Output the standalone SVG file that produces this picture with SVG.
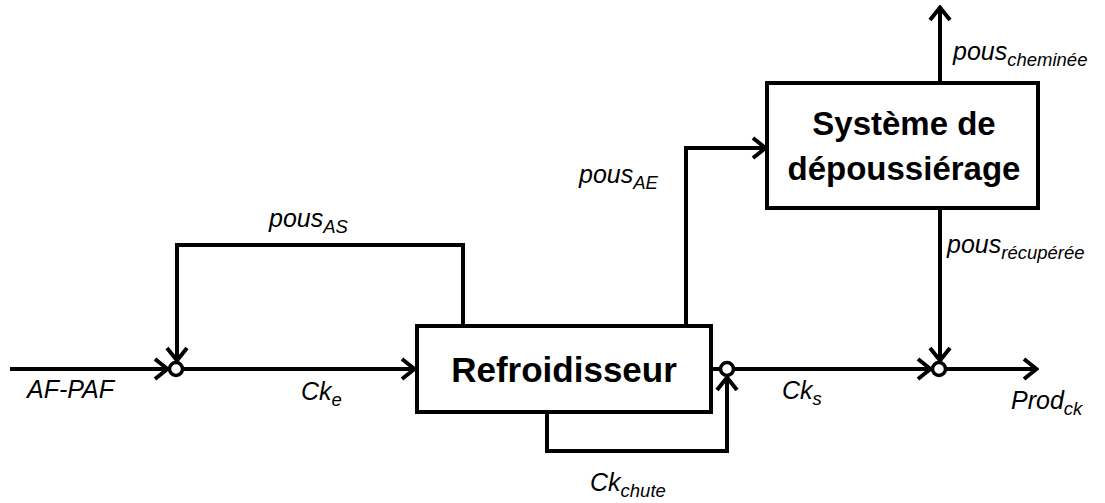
<svg xmlns="http://www.w3.org/2000/svg" width="1105" height="503" viewBox="0 0 1105 503">
<style>
.ln{fill:none;stroke:#000;stroke-width:4;stroke-linejoin:miter}
.box{fill:#fff;stroke:#000;stroke-width:4}
.jn{fill:#fff;stroke:#000;stroke-width:3.5}
.t{font-family:"Liberation Sans",Arial,sans-serif;fill:#000}
.lab{font-style:italic;font-size:25px}
.sub{font-size:18.5px}
.bt{font-weight:bold;text-anchor:middle}
</style>
<defs>
<marker id="arr" viewBox="0 0 18 26" refX="16" refY="13" markerWidth="18" markerHeight="26" markerUnits="userSpaceOnUse" orient="auto">
<path d="M3,3 L15.5,13 L3,23" fill="none" stroke="#000" stroke-width="4"/>
</marker>
</defs>
<rect width="1105" height="503" fill="#fff"/>
<g id="connectors">
<path class="ln" d="M10,369 H168" marker-end="url(#arr)"/>
<path class="ln" d="M463,326 V245 H177 V361" marker-end="url(#arr)"/>
<path class="ln" d="M183,369 H415" marker-end="url(#arr)"/>
<path class="ln" d="M711,369 H721"/>
<path class="ln" d="M547,412 V451 H727 V377" marker-end="url(#arr)"/>
<path class="ln" d="M734,369 H931" marker-end="url(#arr)"/>
<path class="ln" d="M946,369 H1037" marker-end="url(#arr)"/>
<path class="ln" d="M686,326 V148 H766" marker-end="url(#arr)"/>
<path class="ln" d="M940,83 V7" marker-end="url(#arr)"/>
<path class="ln" d="M940,208 V361" marker-end="url(#arr)"/>
</g>
<g id="refroidisseur">
<rect class="box" x="417" y="326" width="294" height="86"/>
<text class="t bt" x="564" y="382" font-size="35">Refroidisseur</text>
</g>
<g id="depoussierage">
<rect class="box" x="767" y="83" width="271" height="125"/>
<text class="t bt" x="904" y="135" font-size="33">Système de</text>
<text class="t bt" x="904" y="180" font-size="33">dépoussiérage</text>
</g>
<g id="junction1"><circle class="jn" cx="176" cy="369" r="6.5"/></g>
<g id="junction2"><circle class="jn" cx="727" cy="369" r="6.5"/></g>
<g id="junction3"><circle class="jn" cx="939" cy="369" r="6.5"/></g>
<g id="labels">
<text class="t lab" x="27" y="398">AF-PAF</text>
<text class="t lab" x="301" y="400">Ck<tspan class="sub" dy="6">e</tspan></text>
<text class="t lab" x="269" y="227">pous<tspan class="sub" dy="6">AS</tspan></text>
<text class="t lab" x="579" y="183">pous<tspan class="sub" dy="6">AE</tspan></text>
<text class="t lab" x="953" y="60">pous<tspan class="sub" dy="6">cheminée</tspan></text>
<text class="t lab" x="947" y="253">pous<tspan class="sub" dy="6">récupérée</tspan></text>
<text class="t lab" x="782" y="399">Ck<tspan class="sub" dy="6">s</tspan></text>
<text class="t lab" x="1011" y="409">Prod<tspan class="sub" dy="6">ck</tspan></text>
<text class="t lab" x="590" y="491">Ck<tspan class="sub" dy="6">chute</tspan></text>
</g>
</svg>
